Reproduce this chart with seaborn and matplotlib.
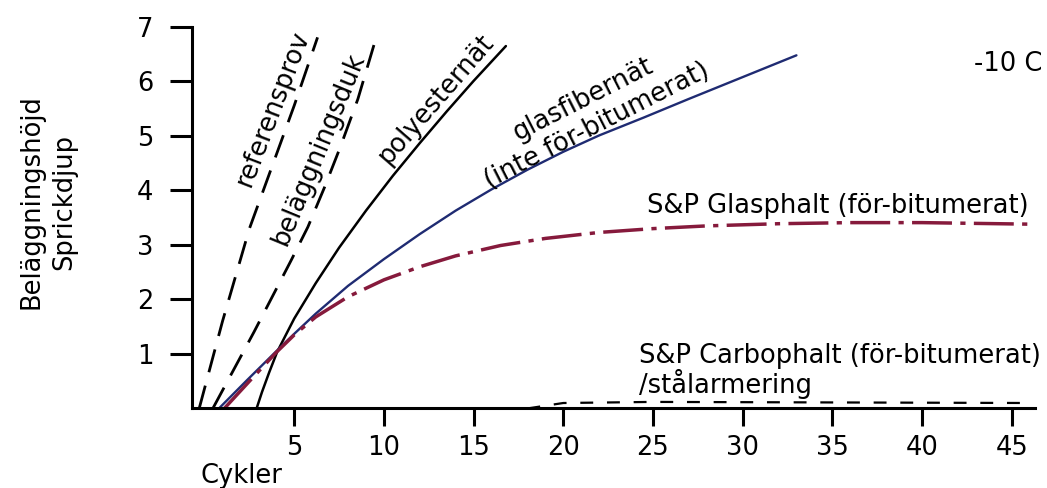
import matplotlib
matplotlib.use("Agg")
import matplotlib.pyplot as plt
import seaborn as sns

# --- data (x = cykler, y = sprickdjup) ---
ref_x = [-0.3, 1.0, 2.5, 5.0, 6.3]
ref_y = [0.0, 1.6, 3.3, 5.56, 6.81]

duk_x = [0.46, 2.75, 4.83, 5.76, 6.69, 7.56, 8.55, 9.57]
duk_y = [0.0, 1.4, 2.72, 3.33, 4.06, 4.79, 5.68, 6.81]

poly_x = [2.9, 3.2, 3.6, 4.05, 5.0, 6.2, 7.5, 9.0, 10.5, 12.0, 13.5, 15.0, 16.8]
poly_y = [0.0, 0.3, 0.66, 1.04, 1.65, 2.3, 2.95, 3.63, 4.27, 4.87, 5.45, 6.01, 6.65]

glas_x = [0.8, 2.4, 4.0, 5.0, 6.2, 8.0, 10.0, 12.0, 14.0, 16.0, 18.0, 20.0, 22.0, 24.5, 27.0, 30.0, 33.0]
glas_y = [0.0, 0.53, 1.05, 1.37, 1.74, 2.25, 2.74, 3.2, 3.63, 4.02, 4.38, 4.71, 5.01, 5.34, 5.68, 6.08, 6.48]

glasphalt_x = [1.1, 2.5, 4.0, 5.0, 6.2, 8.0, 10.0, 12.0, 14.0, 16.5, 19.0, 22.0, 25.0, 28.0, 32.0, 36.0, 40.0, 46.4]
glasphalt_y = [0.0, 0.5, 1.03, 1.35, 1.68, 2.05, 2.36, 2.6, 2.8, 2.99, 3.12, 3.23, 3.3, 3.35, 3.39, 3.41, 3.41, 3.38]

carbo_x = [18.0, 20.0, 25.0, 46.0]
carbo_y = [0.0, 0.1, 0.12, 0.1]

x_ticks = [5, 10, 15, 20, 25, 30, 35, 40, 45]
y_ticks = [1, 2, 3, 4, 5, 6, 7]

sns.set_style("white")
plt.rcParams['font.family'] = ['DejaVu Sans']
plt.rcParams['text.color'] = 'black'
plt.rcParams['xtick.color'] = 'black'
plt.rcParams['ytick.color'] = 'black'

BLUE = '#1f2b72'
RED = '#861a3c'
FS = 18.5

fig = plt.figure(figsize=(10.47, 4.88), dpi=100)
ax = fig.add_axes([0.1834, 0.163, 0.8051, 0.7817])

sns.lineplot(x=ref_x, y=ref_y, ax=ax, color='black', lw=2.0, linestyle=(0, (8.5, 5)))
sns.lineplot(x=duk_x, y=duk_y, ax=ax, color='black', lw=2.0, linestyle=(0, (8.5, 5)))
sns.lineplot(x=poly_x, y=poly_y, ax=ax, color='black', lw=1.8)
sns.lineplot(x=glas_x, y=glas_y, ax=ax, color=BLUE, lw=1.7)
sns.lineplot(x=glasphalt_x, y=glasphalt_y, ax=ax, color=RED, lw=2.5,
             linestyle=(0, (11.5, 2.4, 1.5, 2.4)))
sns.lineplot(x=carbo_x, y=carbo_y, ax=ax, color='black', lw=1.6, linestyle=(0, (5.8, 6.2)))

ax.set_xlim(-0.7, 46.3)
ax.set_ylim(0, 7)
ax.set_xticks(x_ticks)
ax.set_yticks(y_ticks)
ax.tick_params(axis='x', direction='out', length=13, width=2.2, pad=6, labelsize=18.5, bottom=True)
ax.tick_params(axis='y', direction='out', length=16, width=2.2, pad=12, labelsize=18.5, left=True)
for side in ['top', 'right']:
    ax.spines[side].set_visible(False)
for side in ['left', 'bottom']:
    ax.spines[side].set_linewidth(2.2)
    ax.spines[side].set_color('black')
ax.set_xlabel('')
ax.set_ylabel('')

# curve labels
ax.text(3.8, 5.5, 'referensprov', rotation=69, ha='center', va='center', fontsize=FS)
ax.text(6.35, 4.77, 'beläggningsduk', rotation=67.6, ha='center', va='center', fontsize=FS)
ax.text(12.9, 5.67, 'polyesternät', rotation=49, ha='center', va='center', fontsize=FS)
ax.text(21.5, 5.43, 'glasfibernät\n(inte för-bitumerat)', rotation=27, ha='center', va='center',
        multialignment='center', fontsize=FS, linespacing=1.15)
ax.text(35.3, 3.58, 'S&P Glasphalt (för-bitumerat)', ha='center', va='baseline', fontsize=FS)
ax.text(24.25, 0.275, 'S&P Carbophalt (för-bitumerat)\n/stålarmering', ha='left', va='baseline',
        multialignment='left', fontsize=FS, linespacing=1.0)
ax.text(42.9, 6.2, '-10 C', ha='left', va='baseline', fontsize=FS)

fig.text(0.2302, 0.0246, 'Cykler', ha='center', va='center', fontsize=FS)
fig.text(0.0458, 0.586, 'Beläggningshöjd\nSprickdjup', rotation=90, ha='center', va='center',
         multialignment='center', fontsize=FS, linespacing=1.3)

fig.savefig('out.png', dpi=100, facecolor='white')
